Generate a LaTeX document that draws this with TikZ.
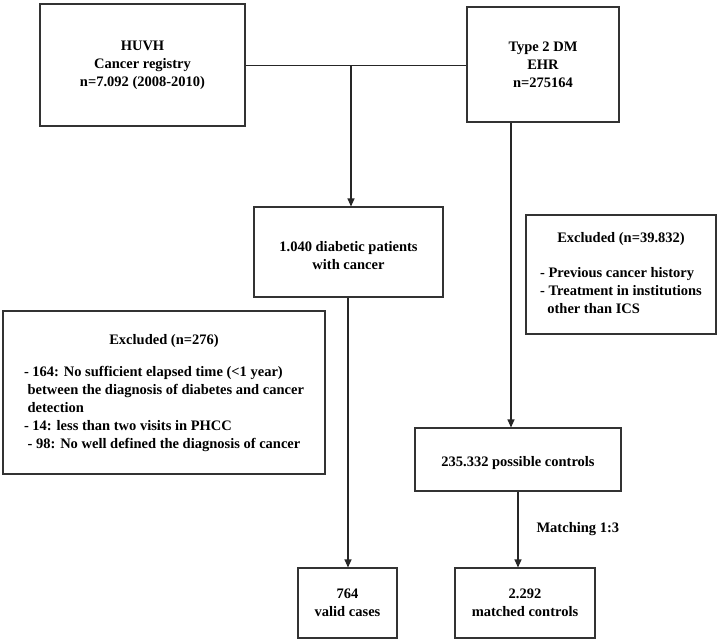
\documentclass[tikz,border=0pt]{standalone}
\usepackage{fontspec}
\setmainfont{Liberation Serif}
\usetikzlibrary{arrows.meta}
\begin{document}
\begin{tikzpicture}[x=1pt,y=-1pt,
  box/.style={draw=black!80,line width=1.1pt,inner sep=0pt,align=center,
    font=\fontsize{14.5}{18}\selectfont\bfseries},
  conn/.style={draw=black!85,line width=1.1pt},
  arr/.style={conn,-{Triangle[length=8pt,width=7pt]}},
  lbl/.style={font=\fontsize{14.5}{18}\selectfont\bfseries,anchor=west,inner sep=0pt}]
\useasboundingbox[fill=white] (0,0) rectangle (720,642);
\node[box,minimum width=205,minimum height=122] (huvh) at (142.5,65) {HUVH\\Cancer registry\\n=7.092 (2008-2010)};
\node[box,minimum width=152,minimum height=115] (dm) at (543,64.5) {Type 2 DM\\EHR\\n=275164};
\node[box,minimum width=189,minimum height=90] (dp) at (348.5,252) {\\1.040 diabetic patients\\with cancer};
\node[box,minimum width=322,minimum height=163] (ex1) at (164,392.5) {\begin{tabular}{@{}l@{}}\multicolumn{1}{@{}c@{}}{Excluded (n=276)}\\[14pt]
- 164: No sufficient elapsed time (<1 year)\\
\ between the diagnosis of diabetes and cancer\\
\ detection\\
- 14: less than two visits in PHCC\\
\ - 98: No well defined the diagnosis of cancer\end{tabular}};
\node[box,minimum width=190,minimum height=119] (ex2) at (621,274.5) {\begin{tabular}{@{}l@{}}\multicolumn{1}{@{}c@{}}{Excluded (n=39.832)}\\[17pt]
- Previous cancer history\\
- Treatment in institutions\\
\ \ other than ICS\end{tabular}};
\node[box,minimum width=206,minimum height=63] (pc) at (518,459.5) {\\235.332 possible controls};
\node[box,minimum width=99,minimum height=70] (vc) at (347.5,603) {764\\valid cases};
\node[box,minimum width=140,minimum height=70] (mc) at (525,603) {2.292\\matched controls};
\coordinate (j) at (351,65.7);
\draw[conn] (huvh.east |- j) -- (dm.west |- j);
\draw[arr] (j) -- (j |- dp.north);
\draw[arr] (dp.south -| 348,0) -- (vc.north -| 348,0);
\draw[arr] (dm.south -| 511,0) -- (pc.north -| 511,0);
\draw[arr] (pc.south -| 518,0) -- node[lbl,right=18pt] (m) {Matching 1:3} (mc.north -| 518,0);
\end{tikzpicture}
\end{document}
